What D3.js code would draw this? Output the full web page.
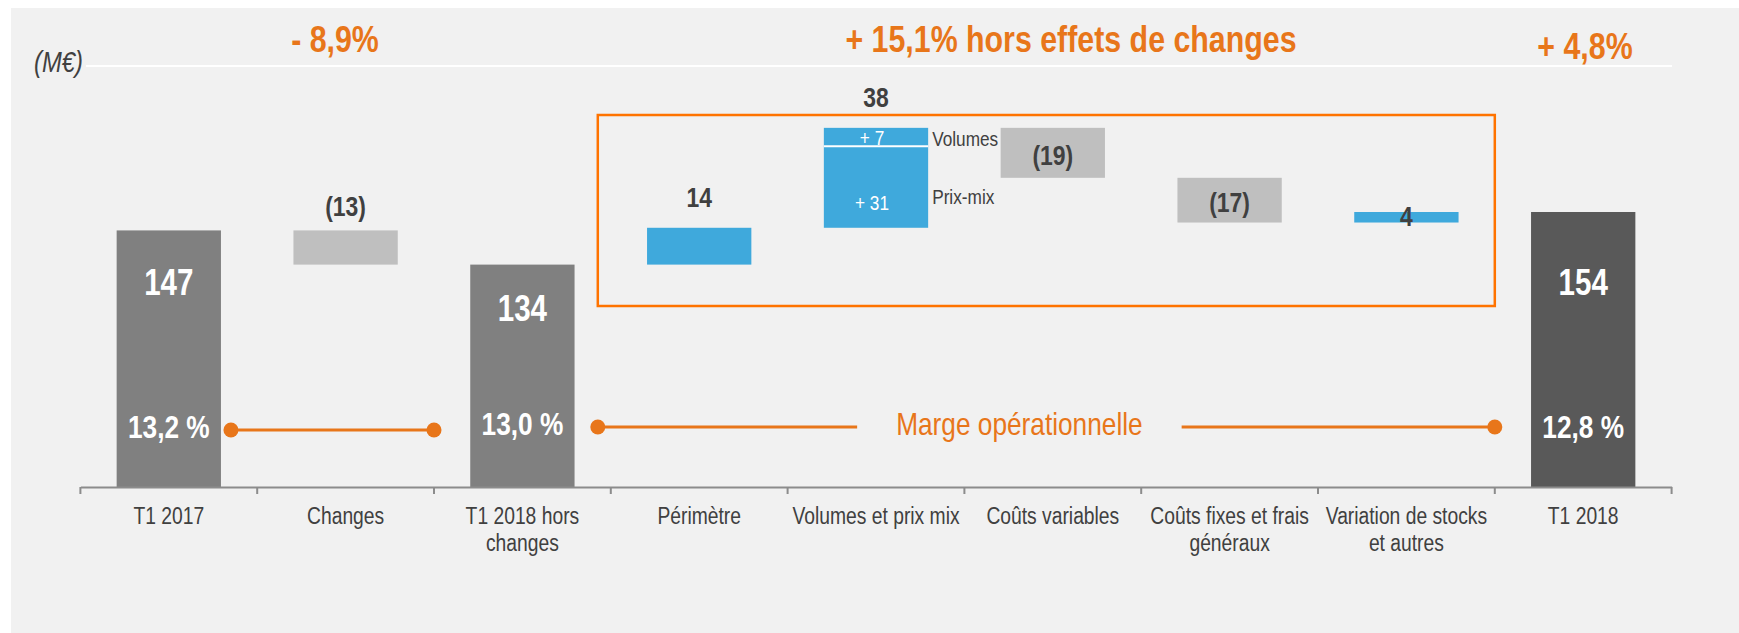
<!DOCTYPE html>
<html>
<head>
<meta charset="utf-8">
<script src="https://cdn.jsdelivr.net/npm/d3@7"></script>
<style>
  body { margin: 0; background: #fff; }
  svg text { font-family: 'Liberation Sans', Arial, sans-serif; }
</style>
</head>
<body>
<div id="chart"></div>
<script>
// waterfall data (M€)
const categories = ['T1 2017', 'Changes', 'T1 2018 hors\nchanges', 'Périmètre', 'Volumes et prix mix',
  'Coûts variables', 'Coûts fixes et frais\ngénéraux', 'Variation de stocks\net autres', 'T1 2018']
const kinds = ['total', 'delta', 'total', 'delta', 'delta', 'delta', 'delta', 'delta', 'final']
const values = [147, -13, 134, 14, 38, -19, -17, 4, 154]
const valueLabels = ['147', '(13)', '134', '14', '38', '(19)', '(17)', '4', '154']
const labelPlacement = ['in', 'above', 'in', 'above', 'above', 'in', 'in', 'in', 'in']

// split of the volumes / prix-mix bar
const splitNames = ['Volumes', 'Prix-mix']
const splitValues = [7, 31]
const splitLabels = ['+ 7', '+ 31']

// operating margin
const marginCats = [0, 2, 8]
const marginLabels = ['13,2 %', '13,0 %', '12,8 %']
const marginTitle = 'Marge opérationnelle'

const titles = ['- 8,9%', '+ 15,1% hors effets de changes', '+ 4,8%']
const unitLabel = '(M€)'

const W = 1739, H = 633
const axisY = 487
const orange = '#e8761a', boxOrange = '#ff7300', textDark = '#404040'
const colors = { total: '#808080', final: '#595959', up: '#3fa9dc', down: '#bfbfbf' }

// no narrow font installed: squeeze glyphs to ~Arial Narrow width
function narrow(sel) {
  sel.each(function () {
    const spans = this.querySelectorAll('tspan')
    const nodes = spans.length ? Array.from(spans) : [this]
    nodes.forEach(function (n) {
      const L = n.getComputedTextLength()
      n.setAttribute('textLength', (L * 0.82).toFixed(1))
      n.setAttribute('lengthAdjust', 'spacingAndGlyphs')
    })
  })
}

const svg = d3.select('#chart').append('svg').attr('width', W).attr('height', H)
svg.append('rect').attr('x', 11).attr('y', 8).attr('width', W - 11).attr('height', H - 8).attr('fill', '#f1f1f1')

const xb = d3.scaleBand().domain(categories).range([80.4, 1671.6])
const x = d3.scaleBand().domain(categories).range([80.4, 1671.6]).paddingInner(0.41).paddingOuter(0.205)
const y = d3.scaleLinear().domain([0, 154]).range([617, 212])

// build waterfall rows
let run = 0
const rows = values.map(function (v, i) {
  let lo, hi
  if (kinds[i] === 'delta') { lo = Math.min(run, run + v); hi = Math.max(run, run + v); run += v }
  else { lo = 0; hi = v; run = v }
  let c = kinds[i] === 'delta' ? (v >= 0 ? colors.up : colors.down) : colors[kinds[i]]
  return { cat: categories[i], v: v, lo: lo, hi: hi, color: c, label: valueLabels[i], place: labelPlacement[i], kind: kinds[i] }
})

// title band
svg.append('line').attr('x1', 86).attr('x2', 1672).attr('y1', 66).attr('y2', 66)
  .attr('stroke', '#fff').attr('stroke-width', 2)
svg.append('text').attr('x', 34).attr('y', 72).attr('font-size', 29).attr('font-style', 'italic')
  .attr('fill', textDark).text(unitLabel)
const titlePos = [[335, 52], [1071, 52], [1585, 59]]
svg.selectAll('.title').data(titles).join('text').attr('class', 'title')
  .attr('x', (d, i) => titlePos[i][0]).attr('y', (d, i) => titlePos[i][1])
  .attr('text-anchor', 'middle').attr('font-size', 37).attr('font-weight', 'bold')
  .attr('fill', orange).text(d => d)

// orange box round the operating items
const boxLeft = xb(categories[3]) - 13
const boxRight = xb(categories[7]) + xb.bandwidth()
svg.append('rect').attr('x', boxLeft).attr('y', 115).attr('width', boxRight - boxLeft).attr('height', 191)
  .attr('fill', 'none').attr('stroke', boxOrange).attr('stroke-width', 2.5)

// bars
svg.selectAll('.bar').data(rows.filter((d, i) => i !== 4)).join('rect').attr('class', 'bar')
  .attr('x', d => x(d.cat)).attr('width', x.bandwidth())
  .attr('y', d => y(d.hi)).attr('height', d => Math.min(y(d.lo), axisY) - y(d.hi))
  .attr('fill', d => d.color)

// split bar for volumes / prix mix
const vol = rows[4]
let acc = vol.hi
const parts = splitValues.map(function (v, i) {
  const p = { hi: acc, lo: acc - v, name: splitNames[i], label: splitLabels[i] }
  acc -= v
  return p
})
svg.selectAll('.split').data(parts).join('rect').attr('class', 'split')
  .attr('x', x(vol.cat)).attr('width', x.bandwidth())
  .attr('y', d => y(d.hi)).attr('height', d => y(d.lo) - y(d.hi))
  .attr('fill', colors.up)
svg.append('line').attr('x1', x(vol.cat)).attr('x2', x(vol.cat) + x.bandwidth())
  .attr('y1', y(parts[0].lo)).attr('y2', y(parts[0].lo)).attr('stroke', '#fff').attr('stroke-width', 2)
svg.selectAll('.splitLabel').data(parts).join('text').attr('class', 'splitLabel')
  .attr('x', x(vol.cat) + x.bandwidth() / 2 - 4)
  .attr('y', (d, i) => i === 0 ? y(d.lo) - 1 : y(d.lo) - 18)
  .attr('text-anchor', 'middle').attr('font-size', 21).attr('fill', '#fff').text(d => d.label)
svg.selectAll('.splitName').data(parts).join('text').attr('class', 'splitName')
  .attr('x', x(vol.cat) + x.bandwidth() + 4)
  .attr('y', (d, i) => i === 0 ? y(d.lo) : y(d.lo) - 24)
  .attr('font-size', 21).attr('fill', textDark).text(d => d.name)

// value labels
svg.selectAll('.val').data(rows).join('text').attr('class', 'val')
  .attr('x', d => x(d.cat) + x.bandwidth() / 2)
  .attr('y', function (d) {
    if (d.kind !== 'delta') return Math.max(y(d.hi) + 56, 295)
    if (d.place === 'above') return y(d.hi) - (d.v < 0 ? 14 : 21)
    return (y(d.hi) + y(d.lo)) / 2 + (y(d.lo) - y(d.hi) < 30 ? 9 : 12)
  })
  .attr('text-anchor', 'middle').attr('font-weight', 'bold')
  .attr('font-size', d => d.kind === 'delta' ? 28 : 36)
  .attr('fill', d => d.kind === 'delta' ? textDark : '#fff')
  .text(d => d.label)

// margin labels inside the total bars
svg.selectAll('.margin').data(marginLabels).join('text').attr('class', 'margin')
  .attr('x', (d, i) => x(categories[marginCats[i]]) + x.bandwidth() / 2)
  .attr('y', (d, i) => i === 1 ? 435 : 438)
  .attr('text-anchor', 'middle').attr('font-weight', 'bold').attr('font-size', 32)
  .attr('fill', '#fff').text(d => d)

// margin connector lines
const d1 = x(categories[0]) + x.bandwidth() + 10
const d2 = xb(categories[2])
const d3x = boxLeft
const d4 = boxRight
const g = svg.append('g')
const mt = g.append('text').attr('x', d3.interpolate(d3x, d4)(0.47)).attr('y', 435)
  .attr('text-anchor', 'middle').attr('font-size', 32).attr('fill', orange).text(marginTitle)
narrow(mt)
const bb = mt.node().getBBox()
const segs = [[d1, d2, 430], [d3x, bb.x - 39, 427], [bb.x + bb.width + 39, d4, 427]]
g.selectAll('.seg').data(segs).join('line').attr('class', 'seg')
  .attr('x1', d => d[0]).attr('x2', d => d[1]).attr('y1', d => d[2]).attr('y2', d => d[2])
  .attr('stroke', orange).attr('stroke-width', 3)
g.selectAll('.dot').data([[d1, 430], [d2, 430], [d3x, 427], [d4, 427]]).join('circle').attr('class', 'dot')
  .attr('cx', d => d[0]).attr('cy', d => d[1]).attr('r', 7.5).attr('fill', orange)

// category axis
const axis = svg.append('g').attr('transform', 'translate(0,' + axisY + ')')
  .call(d3.axisBottom(xb).tickSize(0).tickSizeOuter(0))
axis.select('.domain').attr('stroke', '#8c8c8c').attr('stroke-width', 2)
axis.selectAll('.tick text').remove()
axis.selectAll('.tick').each(function (d) {
  const t = d3.select(this).append('text').attr('y', 37).attr('text-anchor', 'middle')
    .attr('font-size', 23.5).attr('fill', textDark)
  d.split('\n').forEach(function (line, i) {
    t.append('tspan').attr('x', 0).attr('dy', i === 0 ? 0 : 27).text(line)
  })
})
const bounds = categories.map(c => xb(c)).concat([xb.range()[1]])
axis.selectAll('.btick').data(bounds).join('line').attr('class', 'btick')
  .attr('x1', d => d).attr('x2', d => d).attr('y1', 0).attr('y2', 7)
  .attr('stroke', '#8c8c8c').attr('stroke-width', 2)

narrow(svg.selectAll('text').filter(function () { return this !== mt.node() }))
</script>
</body>
</html>
